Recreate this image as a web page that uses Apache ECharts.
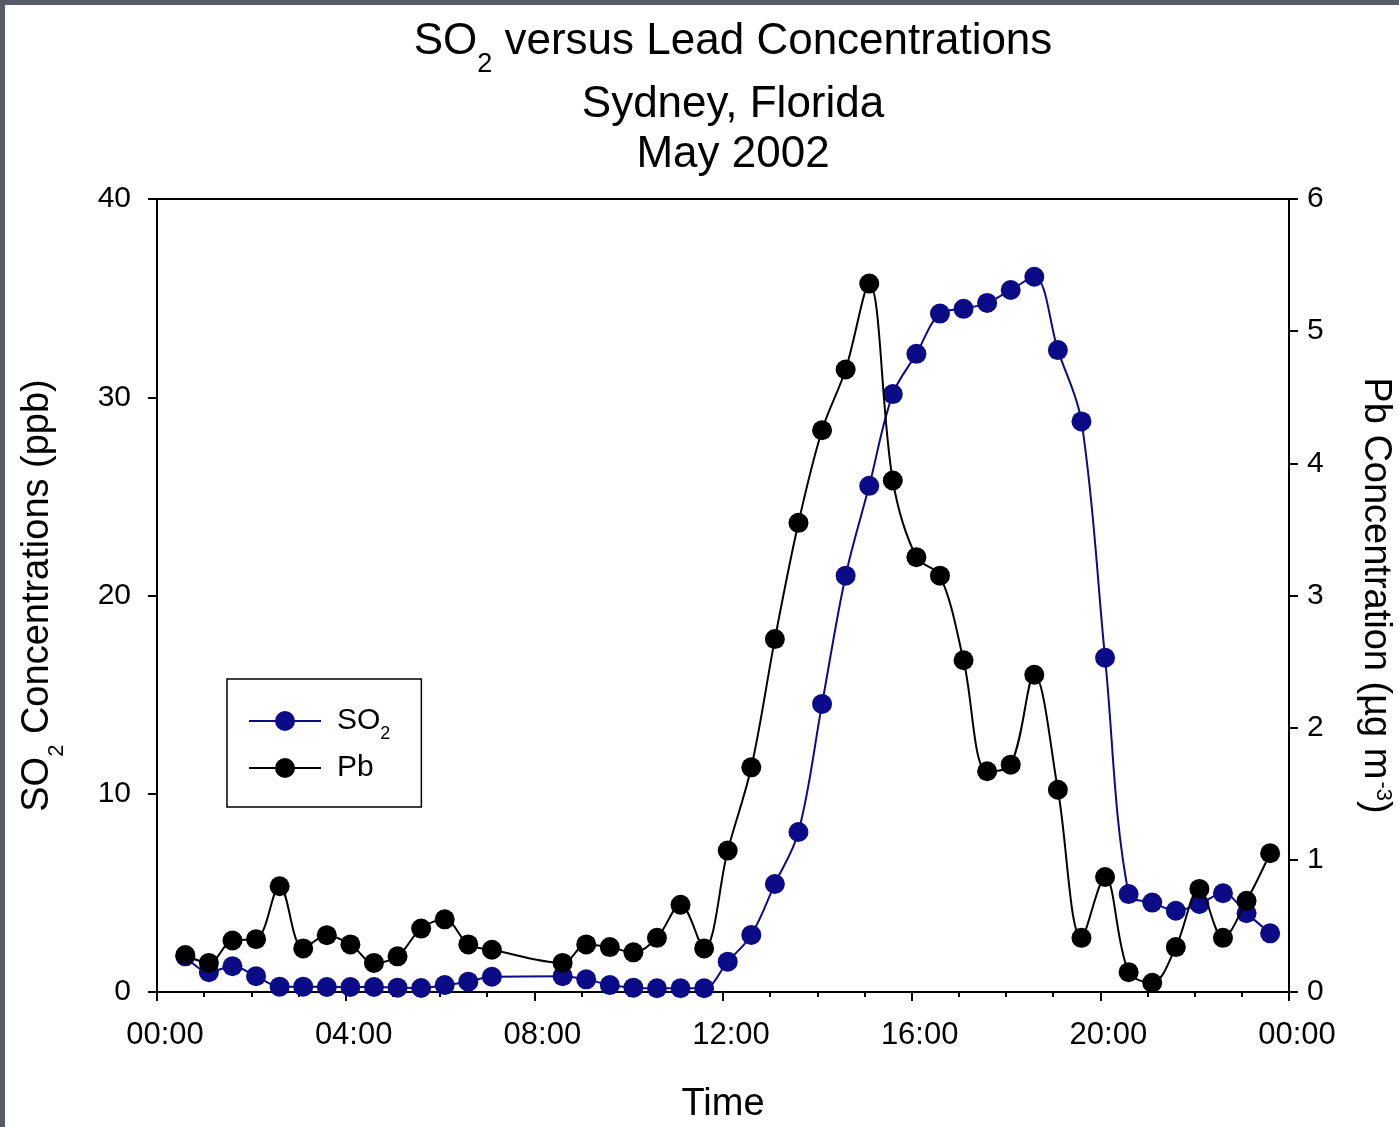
<!DOCTYPE html>
<html>
<head>
<meta charset="utf-8">
<script src="https://cdn.jsdelivr.net/npm/echarts@6/dist/echarts.min.js"></script>
<style>
  html, body { margin: 0; padding: 0; width: 1399px; height: 1127px; overflow: hidden; background: #565a69; }
  #chart { position: absolute; left: 5px; top: 5px; width: 1394px; height: 1122px; background: #ffffff; }
</style>
</head>
<body>
<div id="chart"></div>
<script>
// Half-hourly samples (07:36 and 08:06 are missing)
const sampleTimes = [
  '00:36', '01:06', '01:36', '02:06', '02:36', '03:06', '03:36', '04:06', '04:36', '05:06',
  '05:36', '06:06', '06:36', '07:06',
  '08:36', '09:06', '09:36', '10:06', '10:36', '11:06', '11:36', '12:06', '12:36', '13:06',
  '13:36', '14:06', '14:36', '15:06', '15:36', '16:06', '16:36', '17:06', '17:36', '18:06',
  '18:36', '19:06', '19:36', '20:06', '20:36', '21:06', '21:36', '22:06', '22:36', '23:06',
  '23:36'
];

// SO2, ppb (left axis)
const so2Values = [
  1.8, 1.0, 1.3, 0.8, 0.27, 0.27, 0.25, 0.25, 0.25, 0.22,
  0.2, 0.35, 0.52, 0.77,
  0.8, 0.64, 0.35, 0.22, 0.19, 0.19, 0.19, 1.53, 2.88, 5.45,
  8.07, 14.53, 21.0, 25.53, 30.16, 32.19, 34.22, 34.46, 34.76, 35.41,
  36.08, 32.38, 28.78, 16.86, 4.94, 4.51, 4.10, 4.44, 4.98, 3.97,
  2.96
];

// Pb, ug m-3 (right axis)
const pbValues = [
  0.28, 0.22, 0.39, 0.40, 0.80, 0.33, 0.43, 0.36, 0.22, 0.27,
  0.48, 0.55, 0.36, 0.32,
  0.22, 0.36, 0.34, 0.30, 0.41, 0.66, 0.33, 1.07, 1.70, 2.67,
  3.55, 4.25, 4.71, 5.36, 3.87, 3.29, 3.15, 2.51, 1.67, 1.72,
  2.40, 1.53, 0.41, 0.87, 0.15, 0.07, 0.34, 0.78, 0.41, 0.69,
  1.05
];

const timeTickLabels = ['00:00', '04:00', '08:00', '12:00', '16:00', '20:00', '00:00'];

const NAVY = '#0b0b87';
const FONT = '"Liberation Sans", Arial, Helvetica, sans-serif';

function toMinutes(t) {
  const [h, m] = t.split(':').map(Number);
  return h * 60 + m;
}

const so2Data = sampleTimes.map((t, i) => [toMinutes(t), so2Values[i]]);
const pbData = sampleTimes.map((t, i) => [toMinutes(t), pbValues[i]]);

const chart = echarts.init(document.getElementById('chart'), null, { renderer: 'canvas' });

const plain = { fontFamily: FONT, fontWeight: 'normal', color: '#000' };

const titleRich = {
  a: Object.assign({ fontSize: 44, lineHeight: 50, verticalAlign: 'top' }, plain),
  s: Object.assign({ fontSize: 27, lineHeight: 27, verticalAlign: 'top', padding: [31, 0, 0, 0] }, plain)
};

const nameRich = {
  a: Object.assign({ fontSize: 38, lineHeight: 42, verticalAlign: 'top' }, plain),
  s: Object.assign({ fontSize: 22, lineHeight: 22, verticalAlign: 'top', padding: [27, 0, 0, 0] }, plain),
  p: Object.assign({ fontSize: 22, lineHeight: 22, verticalAlign: 'top', padding: [0, 0, 0, 2] }, plain)
};

const legendRich = {
  a: Object.assign({ fontSize: 30, lineHeight: 30, verticalAlign: 'top' }, plain),
  s: Object.assign({ fontSize: 18, lineHeight: 18, verticalAlign: 'top', padding: [19, 0, 0, 0] }, plain)
};

const option = {
  animation: false,
  backgroundColor: '#ffffff',
  title: [
    {
      text: '{a|SO}{s|2}{a| versus Lead Concentrations}',
      left: 728,
      top: 15,
      textAlign: 'center',
      padding: 0,
      textStyle: Object.assign({ fontSize: 44, rich: titleRich }, plain)
    },
    {
      text: 'Sydney, Florida\nMay 2002',
      left: 728,
      top: 75,
      textAlign: 'center',
      padding: 0,
      textStyle: Object.assign({ fontSize: 44, lineHeight: 50 }, plain)
    }
  ],
  legend: {
    orient: 'vertical',
    left: 222,
    top: 674,
    data: ['SO2', 'Pb'],
    itemWidth: 72,
    itemHeight: 25,
    itemGap: 10,
    padding: [27, 31, 24, 21],
    borderColor: '#000',
    borderWidth: 1.5,
    borderRadius: 0,
    backgroundColor: '#fff',
    formatter: name => name === 'SO2' ? '{a|SO}{s|2}' : '{a|Pb}',
    textStyle: { padding: [0, 0, 0, 11], rich: legendRich }
  },
  grid: {
    left: 152,
    right: 110,
    top: 194,
    bottom: 135,
    outerBoundsMode: 'none',
    containLabel: false,
    show: true,
    borderColor: '#000',
    borderWidth: 2,
    backgroundColor: 'transparent'
  },
  xAxis: {
    type: 'value',
    min: 0,
    max: 1440,
    interval: 240,
    name: 'Time',
    nameLocation: 'middle',
    nameGap: 94,
    nameTextStyle: Object.assign({ fontSize: 38, verticalAlign: 'top' }, plain),
    axisLine: { show: true, lineStyle: { color: '#000', width: 2 } },
    axisTick: { show: true, inside: false, length: 9, lineStyle: { color: '#000', width: 2 } },
    minorTick: { show: true, splitNumber: 4, length: 5, lineStyle: { color: '#000', width: 2 } },
    splitLine: { show: false },
    axisLabel: {
      show: true,
      showMinLabel: true,
      showMaxLabel: true,
      margin: 28,
      padding: [0, 0, 0, 16],
      fontFamily: FONT,
      fontSize: 31,
      color: '#000',
      formatter: v => timeTickLabels[Math.round(v / 240)]
    }
  },
  yAxis: [
    {
      type: 'value',
      min: 0,
      max: 40,
      interval: 10,
      position: 'left',
      name: '{a|SO}{s|2}{a| Concentrations (ppb)}',
      nameLocation: 'middle',
      nameRotate: 90,
      nameGap: 96,
      nameTextStyle: { rich: nameRich },
      axisLine: { show: true, lineStyle: { color: '#000', width: 2 } },
      axisTick: { show: true, inside: false, length: 9, lineStyle: { color: '#000', width: 2 } },
      splitLine: { show: false },
      axisLabel: { margin: 26, fontFamily: FONT, fontSize: 30, color: '#000' }
    },
    {
      type: 'value',
      min: 0,
      max: 6,
      interval: 1,
      position: 'right',
      name: '{a|Pb Concentration (µg m}{p|-3}{a|)}',
      nameLocation: 'middle',
      nameRotate: -90,
      nameGap: 63,
      nameTextStyle: { rich: nameRich },
      axisLine: { show: true, lineStyle: { color: '#000', width: 2 } },
      axisTick: { show: true, inside: false, length: 9, lineStyle: { color: '#000', width: 2 } },
      splitLine: { show: false },
      axisLabel: { margin: 18, fontFamily: FONT, fontSize: 30, color: '#000' }
    }
  ],
  series: [
    {
      name: 'SO2',
      type: 'line',
      yAxisIndex: 0,
      data: so2Data,
      smooth: 0.35,
      symbol: 'circle',
      symbolSize: 20,
      showSymbol: true,
      lineStyle: { color: NAVY, width: 2 },
      itemStyle: { color: NAVY, borderWidth: 0 },
      z: 2
    },
    {
      name: 'Pb',
      type: 'line',
      yAxisIndex: 1,
      data: pbData,
      smooth: 0.35,
      symbol: 'circle',
      symbolSize: 20,
      showSymbol: true,
      lineStyle: { color: '#000', width: 2 },
      itemStyle: { color: '#000', borderWidth: 0 },
      z: 3
    }
  ]
};

chart.setOption(option);
</script>
</body>
</html>
